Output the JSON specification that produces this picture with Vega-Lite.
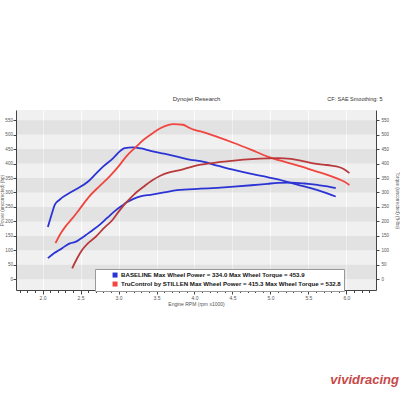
{
  "$schema": "https://vega.github.io/schema/vega-lite/v6.json",
  "width": 360,
  "height": 180,
  "autosize": "none",
  "padding": {"left": 16, "top": 110, "right": 24, "bottom": 110},
  "background": "white",
  "config": {"view": {"fill": "#f0f0f0", "stroke": null}, "font": "Liberation Sans"},
  "title": {"text": "vividracing", "orient": "bottom", "anchor": "end", "frame": "bounds", "offset": 68, "fontSize": 13, "fontStyle": "italic", "fontWeight": "bold", "color": "#c84848", "font": "Liberation Sans"},
  "datasets": {
    "bands": [
      {"lo": 0, "hi": 50}, {"lo": 100, "hi": 150}, {"lo": 200, "hi": 250},
      {"lo": 300, "hi": 350}, {"lo": 400, "hi": 450}, {"lo": 500, "hi": 550}
    ],
    "runs": [
      {"run": "BASELINE", "metric": "torque", "rpm": 2.07, "val": 181},
      {"run": "BASELINE", "metric": "torque", "rpm": 2.12, "val": 225},
      {"run": "BASELINE", "metric": "torque", "rpm": 2.16, "val": 257},
      {"run": "BASELINE", "metric": "torque", "rpm": 2.22, "val": 274},
      {"run": "BASELINE", "metric": "torque", "rpm": 2.40, "val": 305},
      {"run": "BASELINE", "metric": "torque", "rpm": 2.60, "val": 338},
      {"run": "BASELINE", "metric": "torque", "rpm": 2.71, "val": 367},
      {"run": "BASELINE", "metric": "torque", "rpm": 2.80, "val": 390},
      {"run": "BASELINE", "metric": "torque", "rpm": 2.93, "val": 419},
      {"run": "BASELINE", "metric": "torque", "rpm": 3.02, "val": 443},
      {"run": "BASELINE", "metric": "torque", "rpm": 3.08, "val": 453},
      {"run": "BASELINE", "metric": "torque", "rpm": 3.19, "val": 456},
      {"run": "BASELINE", "metric": "torque", "rpm": 3.30, "val": 452},
      {"run": "BASELINE", "metric": "torque", "rpm": 3.42, "val": 444},
      {"run": "BASELINE", "metric": "torque", "rpm": 3.60, "val": 434},
      {"run": "BASELINE", "metric": "torque", "rpm": 3.77, "val": 424},
      {"run": "BASELINE", "metric": "torque", "rpm": 3.95, "val": 413},
      {"run": "BASELINE", "metric": "torque", "rpm": 4.08, "val": 408},
      {"run": "BASELINE", "metric": "torque", "rpm": 4.30, "val": 393},
      {"run": "BASELINE", "metric": "torque", "rpm": 4.52, "val": 378},
      {"run": "BASELINE", "metric": "torque", "rpm": 4.75, "val": 364},
      {"run": "BASELINE", "metric": "torque", "rpm": 4.96, "val": 353},
      {"run": "BASELINE", "metric": "torque", "rpm": 5.10, "val": 345},
      {"run": "BASELINE", "metric": "torque", "rpm": 5.27, "val": 333},
      {"run": "BASELINE", "metric": "torque", "rpm": 5.40, "val": 324},
      {"run": "BASELINE", "metric": "torque", "rpm": 5.53, "val": 315},
      {"run": "BASELINE", "metric": "torque", "rpm": 5.70, "val": 301},
      {"run": "BASELINE", "metric": "torque", "rpm": 5.86, "val": 286},
      {"run": "BASELINE", "metric": "power", "rpm": 2.07, "val": 73},
      {"run": "BASELINE", "metric": "power", "rpm": 2.15, "val": 90},
      {"run": "BASELINE", "metric": "power", "rpm": 2.22, "val": 101},
      {"run": "BASELINE", "metric": "power", "rpm": 2.30, "val": 115},
      {"run": "BASELINE", "metric": "power", "rpm": 2.36, "val": 124},
      {"run": "BASELINE", "metric": "power", "rpm": 2.44, "val": 130},
      {"run": "BASELINE", "metric": "power", "rpm": 2.50, "val": 140},
      {"run": "BASELINE", "metric": "power", "rpm": 2.57, "val": 153},
      {"run": "BASELINE", "metric": "power", "rpm": 2.65, "val": 168},
      {"run": "BASELINE", "metric": "power", "rpm": 2.75, "val": 188},
      {"run": "BASELINE", "metric": "power", "rpm": 2.85, "val": 212},
      {"run": "BASELINE", "metric": "power", "rpm": 2.97, "val": 240},
      {"run": "BASELINE", "metric": "power", "rpm": 3.05, "val": 255},
      {"run": "BASELINE", "metric": "power", "rpm": 3.10, "val": 265},
      {"run": "BASELINE", "metric": "power", "rpm": 3.19, "val": 277},
      {"run": "BASELINE", "metric": "power", "rpm": 3.30, "val": 287},
      {"run": "BASELINE", "metric": "power", "rpm": 3.42, "val": 292},
      {"run": "BASELINE", "metric": "power", "rpm": 3.60, "val": 300},
      {"run": "BASELINE", "metric": "power", "rpm": 3.77, "val": 308},
      {"run": "BASELINE", "metric": "power", "rpm": 4.08, "val": 313},
      {"run": "BASELINE", "metric": "power", "rpm": 4.30, "val": 316},
      {"run": "BASELINE", "metric": "power", "rpm": 4.52, "val": 320},
      {"run": "BASELINE", "metric": "power", "rpm": 4.75, "val": 325},
      {"run": "BASELINE", "metric": "power", "rpm": 4.96, "val": 330},
      {"run": "BASELINE", "metric": "power", "rpm": 5.10, "val": 333},
      {"run": "BASELINE", "metric": "power", "rpm": 5.27, "val": 334},
      {"run": "BASELINE", "metric": "power", "rpm": 5.45, "val": 331},
      {"run": "BASELINE", "metric": "power", "rpm": 5.62, "val": 326},
      {"run": "BASELINE", "metric": "power", "rpm": 5.75, "val": 321},
      {"run": "BASELINE", "metric": "power", "rpm": 5.86, "val": 315},
      {"run": "TruControl", "metric": "torque", "rpm": 2.17, "val": 125},
      {"run": "TruControl", "metric": "torque", "rpm": 2.23, "val": 155},
      {"run": "TruControl", "metric": "torque", "rpm": 2.30, "val": 182},
      {"run": "TruControl", "metric": "torque", "rpm": 2.40, "val": 213},
      {"run": "TruControl", "metric": "torque", "rpm": 2.48, "val": 240},
      {"run": "TruControl", "metric": "torque", "rpm": 2.61, "val": 285},
      {"run": "TruControl", "metric": "torque", "rpm": 2.75, "val": 322},
      {"run": "TruControl", "metric": "torque", "rpm": 2.88, "val": 355},
      {"run": "TruControl", "metric": "torque", "rpm": 3.00, "val": 390},
      {"run": "TruControl", "metric": "torque", "rpm": 3.10, "val": 424},
      {"run": "TruControl", "metric": "torque", "rpm": 3.22, "val": 455},
      {"run": "TruControl", "metric": "torque", "rpm": 3.33, "val": 482},
      {"run": "TruControl", "metric": "torque", "rpm": 3.45, "val": 505},
      {"run": "TruControl", "metric": "torque", "rpm": 3.55, "val": 522},
      {"run": "TruControl", "metric": "torque", "rpm": 3.65, "val": 533},
      {"run": "TruControl", "metric": "torque", "rpm": 3.72, "val": 536},
      {"run": "TruControl", "metric": "torque", "rpm": 3.85, "val": 534},
      {"run": "TruControl", "metric": "torque", "rpm": 3.92, "val": 525},
      {"run": "TruControl", "metric": "torque", "rpm": 3.99, "val": 517},
      {"run": "TruControl", "metric": "torque", "rpm": 4.08, "val": 511},
      {"run": "TruControl", "metric": "torque", "rpm": 4.30, "val": 492},
      {"run": "TruControl", "metric": "torque", "rpm": 4.52, "val": 471},
      {"run": "TruControl", "metric": "torque", "rpm": 4.75, "val": 447},
      {"run": "TruControl", "metric": "torque", "rpm": 4.96, "val": 424},
      {"run": "TruControl", "metric": "torque", "rpm": 5.20, "val": 405},
      {"run": "TruControl", "metric": "torque", "rpm": 5.40, "val": 390},
      {"run": "TruControl", "metric": "torque", "rpm": 5.60, "val": 373},
      {"run": "TruControl", "metric": "torque", "rpm": 5.75, "val": 361},
      {"run": "TruControl", "metric": "torque", "rpm": 5.90, "val": 346},
      {"run": "TruControl", "metric": "torque", "rpm": 5.97, "val": 338},
      {"run": "TruControl", "metric": "torque", "rpm": 6.04, "val": 326},
      {"run": "TruControl", "metric": "power", "rpm": 2.39, "val": 38},
      {"run": "TruControl", "metric": "power", "rpm": 2.45, "val": 70},
      {"run": "TruControl", "metric": "power", "rpm": 2.52, "val": 101},
      {"run": "TruControl", "metric": "power", "rpm": 2.60, "val": 125},
      {"run": "TruControl", "metric": "power", "rpm": 2.70, "val": 147},
      {"run": "TruControl", "metric": "power", "rpm": 2.80, "val": 175},
      {"run": "TruControl", "metric": "power", "rpm": 2.92, "val": 205},
      {"run": "TruControl", "metric": "power", "rpm": 3.02, "val": 240},
      {"run": "TruControl", "metric": "power", "rpm": 3.10, "val": 265},
      {"run": "TruControl", "metric": "power", "rpm": 3.20, "val": 292},
      {"run": "TruControl", "metric": "power", "rpm": 3.33, "val": 320},
      {"run": "TruControl", "metric": "power", "rpm": 3.45, "val": 343},
      {"run": "TruControl", "metric": "power", "rpm": 3.55, "val": 358},
      {"run": "TruControl", "metric": "power", "rpm": 3.68, "val": 370},
      {"run": "TruControl", "metric": "power", "rpm": 3.82, "val": 378},
      {"run": "TruControl", "metric": "power", "rpm": 3.95, "val": 388},
      {"run": "TruControl", "metric": "power", "rpm": 4.08, "val": 396},
      {"run": "TruControl", "metric": "power", "rpm": 4.30, "val": 404},
      {"run": "TruControl", "metric": "power", "rpm": 4.52, "val": 410},
      {"run": "TruControl", "metric": "power", "rpm": 4.75, "val": 415},
      {"run": "TruControl", "metric": "power", "rpm": 4.96, "val": 418},
      {"run": "TruControl", "metric": "power", "rpm": 5.10, "val": 419},
      {"run": "TruControl", "metric": "power", "rpm": 5.27, "val": 416},
      {"run": "TruControl", "metric": "power", "rpm": 5.40, "val": 410},
      {"run": "TruControl", "metric": "power", "rpm": 5.53, "val": 402},
      {"run": "TruControl", "metric": "power", "rpm": 5.70, "val": 396},
      {"run": "TruControl", "metric": "power", "rpm": 5.80, "val": 393},
      {"run": "TruControl", "metric": "power", "rpm": 5.90, "val": 388},
      {"run": "TruControl", "metric": "power", "rpm": 5.97, "val": 380},
      {"run": "TruControl", "metric": "power", "rpm": 6.04, "val": 367}
    ],
    "dummy": [{"rpm": 4, "val": 0}]
  },
  "layer": [
    {
      "layer": [
        {
          "data": {"name": "bands"},
          "mark": {"type": "rect", "fill": "#000000", "fillOpacity": 0.055},
          "encoding": {
            "y": {"field": "lo", "type": "quantitative", "scale": {"domain": [-37, 585], "nice": false, "zero": false},
              "axis": {"orient": "left", "title": "Power (uncorrected) (hp)", "values": [0, 50, 100, 150, 200, 250, 300, 350, 400, 450, 500, 550],
                "grid": false, "labelFontSize": 4.6, "labelColor": "#555", "tickSize": 3, "tickColor": "#444", "domainColor": "#444", "labelPadding": 0.5, "labelOverlap": false, "labelFlush": false,
                "titleFontSize": 4.6, "titleFontWeight": "normal", "titleColor": "#555", "titleX": -13.5, "titleBaseline": "middle"}},
            "y2": {"field": "hi"}
          }
        },
        {
          "data": {"name": "runs"},
          "transform": [{"filter": "!(datum.run == 'TruControl' && datum.metric == 'power')"}],
          "mark": {"type": "line", "strokeWidth": 1.8, "interpolate": "monotone"},
          "encoding": {
            "x": {"field": "rpm", "type": "quantitative", "scale": {"domain": [1.65, 6.39], "nice": false, "zero": false},
              "axis": {"orient": "bottom", "title": "Engine RPM (rpm x1000)",
                "values": [1.7, 1.8, 1.9, 2.0, 2.1, 2.2, 2.3, 2.4, 2.5, 2.6, 2.7, 2.8, 2.9, 3.0, 3.1, 3.2, 3.3, 3.4, 3.5, 3.6, 3.7, 3.8, 3.9, 4.0, 4.1, 4.2, 4.3, 4.4, 4.5, 4.6, 4.7, 4.8, 4.9, 5.0, 5.1, 5.2, 5.3, 5.4, 5.5, 5.6, 5.7, 5.8, 5.9, 6.0, 6.1, 6.2, 6.3],
                "labelExpr": "abs(datum.value * 2 - round(datum.value * 2)) < 0.01 ? format(datum.value, '.1f') : ''",
                "labelFontSize": 5, "labelColor": "#555", "labelPadding": 1, "labelOverlap": false, "labelFlush": false,
                "tickColor": "#444", "domainColor": "#444",
                "tickSize": {"condition": {"test": "abs(datum.value * 2 - round(datum.value * 2)) < 0.01", "value": 4}, "value": 2.5},
                "grid": true, "gridColor": "#fcfcfc", "gridWidth": 1,
                "gridOpacity": {"condition": {"test": "abs(datum.value * 2 - round(datum.value * 2)) < 0.01", "value": 1}, "value": 0},
                "titleFontSize": 5, "titleFontWeight": "normal", "titleColor": "#555", "titlePadding": 1}},
            "y": {"field": "val", "type": "quantitative", "scale": {"domain": [-37, 585], "nice": false, "zero": false},
              "axis": {"orient": "left", "title": "Power (uncorrected) (hp)", "values": [0, 50, 100, 150, 200, 250, 300, 350, 400, 450, 500, 550],
                "grid": false, "labelFontSize": 4.6, "labelColor": "#555", "tickSize": 3, "tickColor": "#444", "domainColor": "#444", "labelPadding": 0.5, "labelOverlap": false, "labelFlush": false,
                "titleFontSize": 4.6, "titleFontWeight": "normal", "titleColor": "#555", "titleX": -13.5, "titleBaseline": "middle"}},
            "detail": {"field": "metric"},
            "color": {"field": "run", "type": "nominal",
              "scale": {"domain": ["BASELINE", "TruControl"], "range": ["#2b33d4", "#f0463f"]},
              "legend": {"orient": "none", "legendX": 79, "legendY": 159, "title": null,
                "fillColor": "white", "strokeColor": "#999", "padding": 3, "symbolOffset": 14,
                "symbolType": "square", "symbolSize": 25, "symbolStrokeWidth": 0,
                "labelFontSize": 6.1, "labelFontWeight": "bold", "labelColor": "#111", "labelFont": "Liberation Sans",
                "labelLimit": 400, "labelOffset": 3, "rowPadding": 2,
                "encode": {"symbols": {"update": {"fill": {"scale": "color", "field": "value"}, "fillOpacity": {"value": 1}, "strokeWidth": {"value": 0}}}},
                "labelExpr": "datum.label == 'BASELINE' ? 'BASELINE Max Wheel Power = 334.0 Max Wheel Torque = 453.9' : 'TruControl by STILLEN Max Wheel Power = 415.3 Max Wheel Torque = 532.8'"}}
          }
        },
        {
          "data": {"name": "runs"},
          "transform": [{"filter": "datum.run == 'TruControl' && datum.metric == 'power'"}],
          "mark": {"type": "line", "strokeWidth": 1.8, "interpolate": "monotone", "color": "#b83a3c"},
          "encoding": {
            "x": {"field": "rpm", "type": "quantitative", "scale": {"domain": [1.65, 6.39], "nice": false, "zero": false},
              "axis": {"orient": "bottom", "title": "Engine RPM (rpm x1000)",
                "values": [1.7, 1.8, 1.9, 2.0, 2.1, 2.2, 2.3, 2.4, 2.5, 2.6, 2.7, 2.8, 2.9, 3.0, 3.1, 3.2, 3.3, 3.4, 3.5, 3.6, 3.7, 3.8, 3.9, 4.0, 4.1, 4.2, 4.3, 4.4, 4.5, 4.6, 4.7, 4.8, 4.9, 5.0, 5.1, 5.2, 5.3, 5.4, 5.5, 5.6, 5.7, 5.8, 5.9, 6.0, 6.1, 6.2, 6.3],
                "labelExpr": "abs(datum.value * 2 - round(datum.value * 2)) < 0.01 ? format(datum.value, '.1f') : ''",
                "labelFontSize": 5, "labelColor": "#555", "labelPadding": 1, "labelOverlap": false, "labelFlush": false,
                "tickColor": "#444", "domainColor": "#444",
                "tickSize": {"condition": {"test": "abs(datum.value * 2 - round(datum.value * 2)) < 0.01", "value": 4}, "value": 2.5},
                "grid": true, "gridColor": "#fcfcfc", "gridWidth": 1,
                "gridOpacity": {"condition": {"test": "abs(datum.value * 2 - round(datum.value * 2)) < 0.01", "value": 1}, "value": 0},
                "titleFontSize": 5, "titleFontWeight": "normal", "titleColor": "#555", "titlePadding": 1}},
            "y": {"field": "val", "type": "quantitative", "scale": {"domain": [-37, 585], "nice": false, "zero": false},
              "axis": {"orient": "left", "title": "Power (uncorrected) (hp)", "values": [0, 50, 100, 150, 200, 250, 300, 350, 400, 450, 500, 550],
                "grid": false, "labelFontSize": 4.6, "labelColor": "#555", "tickSize": 3, "tickColor": "#444", "domainColor": "#444", "labelPadding": 0.5, "labelOverlap": false, "labelFlush": false,
                "titleFontSize": 4.6, "titleFontWeight": "normal", "titleColor": "#555", "titleX": -13.5, "titleBaseline": "middle"}}
          }
        }
      ]
    },
    {
      "data": {"name": "dummy"},
      "mark": {"type": "point", "opacity": 0},
      "encoding": {
        "x": {"field": "rpm", "type": "quantitative", "scale": {"domain": [1.65, 6.39], "nice": false, "zero": false},
          "axis": {"orient": "top", "values": [6.39], "labelExpr": "'CF: SAE Smoothing: 5'", "labelAlign": "right", "labelOffset": 6,
            "labelPadding": 9, "labelFontSize": 5.5, "labelColor": "#333", "ticks": false, "tickSize": 0, "domain": false, "grid": false,
            "labelBound": false, "labelFlush": false, "labelOverlap": false,
            "title": "Dynojet Research", "titleFontSize": 6, "titleFontWeight": "normal", "titleColor": "#333",
            "titleY": -12, "titleBaseline": "middle", "titleAnchor": "middle"}},
        "y": {"field": "val", "type": "quantitative", "scale": {"domain": [-37, 585], "nice": false, "zero": false},
          "axis": {"orient": "right", "title": "Torque (uncorrected) (ft-lbs)", "values": [0, 50, 100, 150, 200, 250, 300, 350, 400, 450, 500, 550],
            "grid": false, "labelFontSize": 4.6, "labelColor": "#555", "tickSize": 3, "tickColor": "#444", "domainColor": "#444", "labelPadding": 2, "labelOverlap": false, "labelFlush": false,
            "titleFontSize": 4.6, "titleFontWeight": "normal", "titleColor": "#555", "titleX": 20, "titleBaseline": "middle"}}
      }
    }
  ],
  "resolve": {"scale": {"x": "independent", "y": "independent"}}
}
